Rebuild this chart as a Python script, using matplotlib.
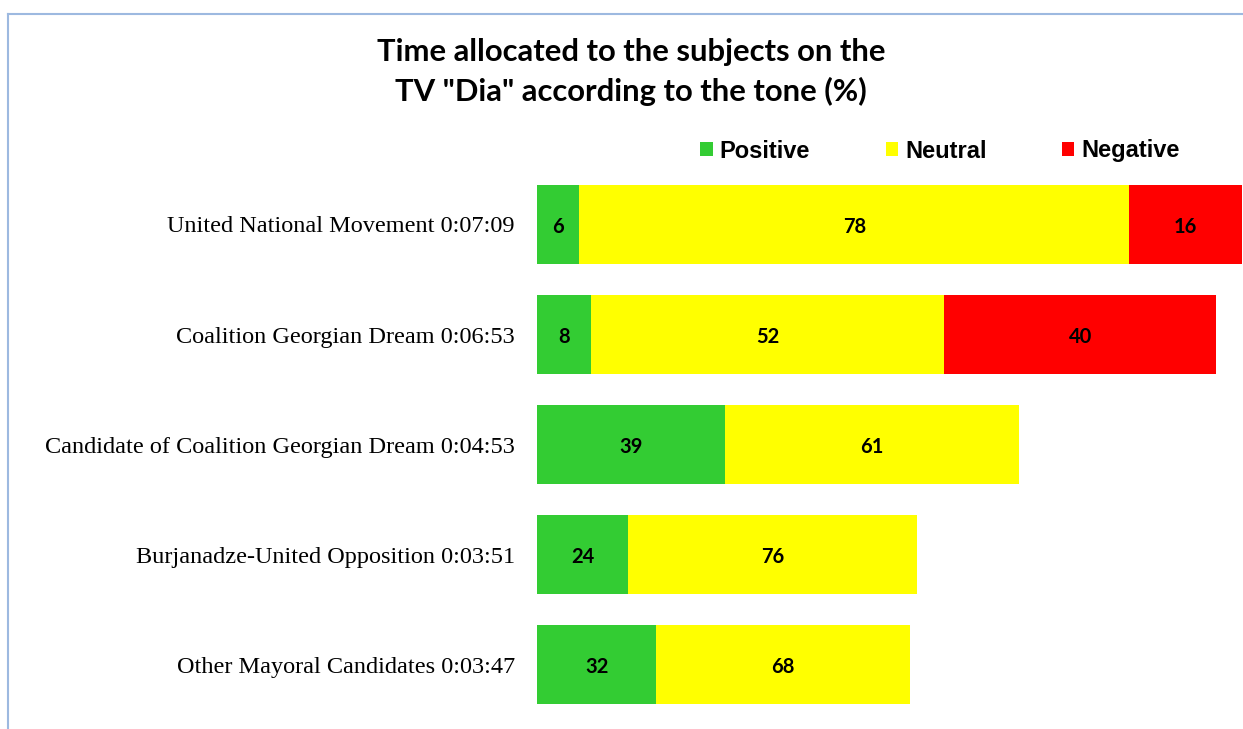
import matplotlib
matplotlib.use("Agg")
import matplotlib.pyplot as plt
from matplotlib.lines import Line2D

categories = [
    "United National Movement 0:07:09",
    "Coalition Georgian Dream 0:06:53",
    "Candidate of Coalition Georgian Dream 0:04:53",
    "Burjanadze-United Opposition 0:03:51",
    "Other Mayoral Candidates 0:03:47",
]
durations_sec = [429, 413, 293, 231, 227]
positive = [6, 8, 39, 24, 32]
neutral = [78, 52, 61, 76, 68]
negative = [16, 40, 0, 0, 0]

series_names = ["Positive", "Neutral", "Negative"]
series_vals = [positive, neutral, negative]
colors = ["#33CC33", "#FFFF00", "#FF0000"]

fig = plt.figure(figsize=(12.43, 7.29), dpi=100)
W, H = 1243, 729
ax = fig.add_axes([537 / W, 1 - 719.5 / H, 1 - 537 / W, (719.5 - 169.5) / H])

y = list(range(len(categories)))
left = [0.0] * len(categories)
handles = []
for name, vals, col in zip(series_names, series_vals, colors):
    widths = [d * v / 100 for d, v in zip(durations_sec, vals)]
    bars = ax.barh(y, widths, left=left, height=0.718, color=col, label=name)
    handles.append(bars)
    for b, v in zip(bars, vals):
        if v > 0:
            ax.text(b.get_x() + b.get_width() / 2, b.get_y() + b.get_height() / 2 + 0.02,
                    str(v), ha="center", va="center", fontsize=14.5,
                    fontweight="bold", family="Lato", color="black")
    left = [l + w for l, w in zip(left, widths)]

ax.set_xlim(0, 429.5)
ax.set_ylim(4.5, -0.5)
ax.set_yticks(y)
ax.set_yticklabels(categories, family="Liberation Serif", fontsize=17.5)
ax.tick_params(axis="y", length=0, pad=16)
ax.tick_params(axis="x", bottom=False, labelbottom=False)
for s in ax.spines.values():
    s.set_visible(False)

fig.text(631 / W, 1 - 72 / H,
         "Time allocated to the subjects on the\nTV \"Dia\" according to the tone (%)",
         ha="center", va="center", fontsize=22.3, fontweight="bold", family="Lato",
         linespacing=1.45)

leg = fig.legend(handles=handles, labels=series_names, loc="center",
                 bbox_to_anchor=(940 / W, 1 - 151 / H), ncol=3, frameon=False,
                 prop={"family": "Liberation Sans", "weight": "bold", "size": 17},
                 handlelength=0.52, handleheight=0.52, handletextpad=0.3,
                 columnspacing=3.2)

border = "#9DB9E0"
fig.add_artist(Line2D([8 / W, 1], [1 - 14 / H, 1 - 14 / H], color=border, lw=1.5,
                      transform=fig.transFigure))
fig.add_artist(Line2D([8 / W, 8 / W], [0, 1 - 14 / H], color=border, lw=1.5,
                      transform=fig.transFigure))

fig.savefig("out.png", dpi=100)
